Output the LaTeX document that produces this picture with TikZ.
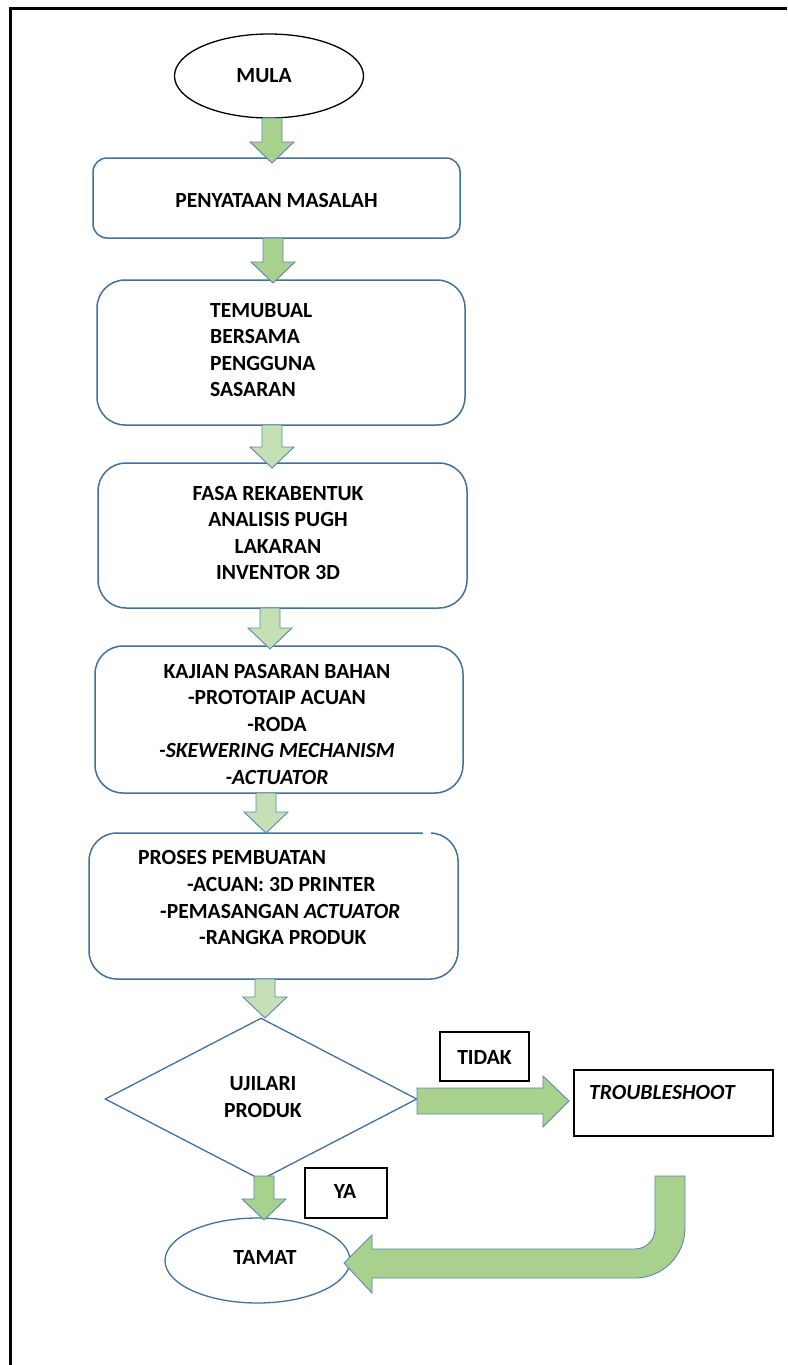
\documentclass[tikz,border=0pt]{standalone}
\usepackage{fontspec}
\setmainfont{Carlito}
\usetikzlibrary{shapes.geometric}
\definecolor{boxblue}{HTML}{41719C}
\definecolor{arrowedge}{HTML}{5B86B0}
\definecolor{agreen}{HTML}{A9D18E}
\definecolor{lgreen}{HTML}{C5E0B4}
\tikzset{
  procbox/.style={draw=boxblue, line width=1.5pt, rounded corners=28pt, fill=white, inner sep=0pt},
  termshape/.style={ellipse, line width=1.3pt, fill=white, inner sep=0pt},
  labelbox/.style={draw=black, line width=1.6pt, fill=white, inner sep=0pt},
  txt/.style={font=\fontsize{21.6}{26.5}\selectfont\bfseries, inner sep=0pt, align=center, text=black},
  ltxt/.style={txt, align=left, anchor=west},
  arrowA/.style={fill=agreen, draw=arrowedge, line width=0.9pt, line join=miter},
  arrowL/.style={fill=lgreen, draw=arrowedge, line width=0.9pt, line join=miter},
}
% vertical block arrow: style, x, top y, tip y
\newcommand\dnarrow[4]{\draw[#1] ({#2-10},#3) -- ({#2+10},#3) -- ({#2+10},{#4-21}) -- ({#2+22},{#4-21}) -- (#2,#4) -- ({#2-22},{#4-21}) -- ({#2-10},{#4-21}) -- cycle;}
\begin{document}
\begin{tikzpicture}[x=1pt,y=-1pt]
\useasboundingbox (0,0) rectangle (787,1365);
\fill[white] (0,0) rectangle (787,1365);
\draw[line width=3pt] (10.5,1365) -- (10.5,8.5) -- (787,8.5);

% shapes
\node[termshape, draw=black, minimum width=189pt, minimum height=84pt] (mula) at (269,76) {};
\node[procbox, rounded corners=14pt, minimum width=367pt, minimum height=80pt] (b1) at (276.5,198) {};
\node[procbox, minimum width=368pt, minimum height=145pt] (b2) at (281,352.5) {};
\node[procbox, minimum width=369pt, minimum height=145pt] (b3) at (282.5,535.5) {};
\node[procbox, minimum width=368pt, minimum height=147pt] (b4) at (279,719.5) {};
\node[procbox, minimum width=369pt, minimum height=146pt] (b5) at (273.5,906) {};
\fill[white] (b5.north east) ++(-36,-2) rectangle ++(8,6);
\node[diamond, draw=boxblue, line width=1.3pt, fill=white, inner sep=0pt, minimum width=312pt, minimum height=162pt] (uji) at (261,1099) {};
\node[labelbox, minimum width=89pt, minimum height=49pt] (tidak) at (484.5,1056.5) {};
\node[labelbox, minimum width=199pt, minimum height=66pt] (trb) at (673.5,1103) {};
\node[labelbox, minimum width=82pt, minimum height=50pt] (ya) at (346,1193) {};
\node[termshape, draw=boxblue, minimum width=185pt, minimum height=85pt] (tamat) at (257.5,1260.5) {};

% texts
\node[txt] (tmula) at (264,76) {MULA};
\node[txt] (tb1) at (276.5,200) {PENYATAAN MASALAH};
\node[ltxt] (tb2) at (210,350) {TEMUBUAL\\BERSAMA\\PENGGUNA\\SASARAN};
\node[txt] (tb3) at (278,533) {FASA REKABENTUK\\ANALISIS PUGH\\LAKARAN\\INVENTOR 3D};
\node[txt] (tb4) at (277,724) {KAJIAN PASARAN BAHAN\\-PROTOTAIP ACUAN\\-RODA\\\textit{-SKEWERING MECHANISM}\\\textit{-ACTUATOR}};
\node[ltxt] (tb5a) at (138,857) {PROSES PEMBUATAN};
\node[ltxt] (tb5b) at (187,884) {-ACUAN: 3D PRINTER};
\node[ltxt] (tb5c) at (160,911) {-PEMASANGAN \textit{ACTUATOR}};
\node[ltxt] (tb5d) at (199,937) {-RANGKA PRODUK};
\node[txt] (tuji) at (263,1097) {UJILARI\\PRODUK};
\node[txt] (ttidak) at (484.5,1057) {TIDAK};
\node[ltxt] (ttrb) at (589,1092) {\textit{TROUBLESHOOT}};
\node[txt] (tya) at (345,1191) {YA};
\node[txt] (ttamat) at (265,1257) {TAMAT};

% block arrows
\dnarrow{arrowA}{272}{118}{163}
\dnarrow{arrowA}{273}{238}{283}
\dnarrow{arrowL}{272}{425}{468}
\dnarrow{arrowL}{270}{608}{649}
\dnarrow{arrowL}{266}{793}{833}
\dnarrow{arrowL}{265}{979}{1018}
\dnarrow{arrowA}{264}{1176}{1220}

% right arrow TIDAK
\draw[arrowA] (417,1088) -- (543,1088) -- (543,1076) -- (569,1101) -- (543,1127) -- (543,1114) -- (417,1114) -- cycle;

% bent return arrow
\draw[arrowA] (655,1176) -- (685,1176) -- (685,1228)
  .. controls (685,1255.6) and (662.6,1278) .. (635,1278)
  -- (372,1278) -- (372,1293) -- (344,1263) -- (372,1235) -- (372,1249) -- (635,1249)
  .. controls (646,1249) and (655,1240) .. (655,1229) -- cycle;
\end{tikzpicture}
\end{document}
